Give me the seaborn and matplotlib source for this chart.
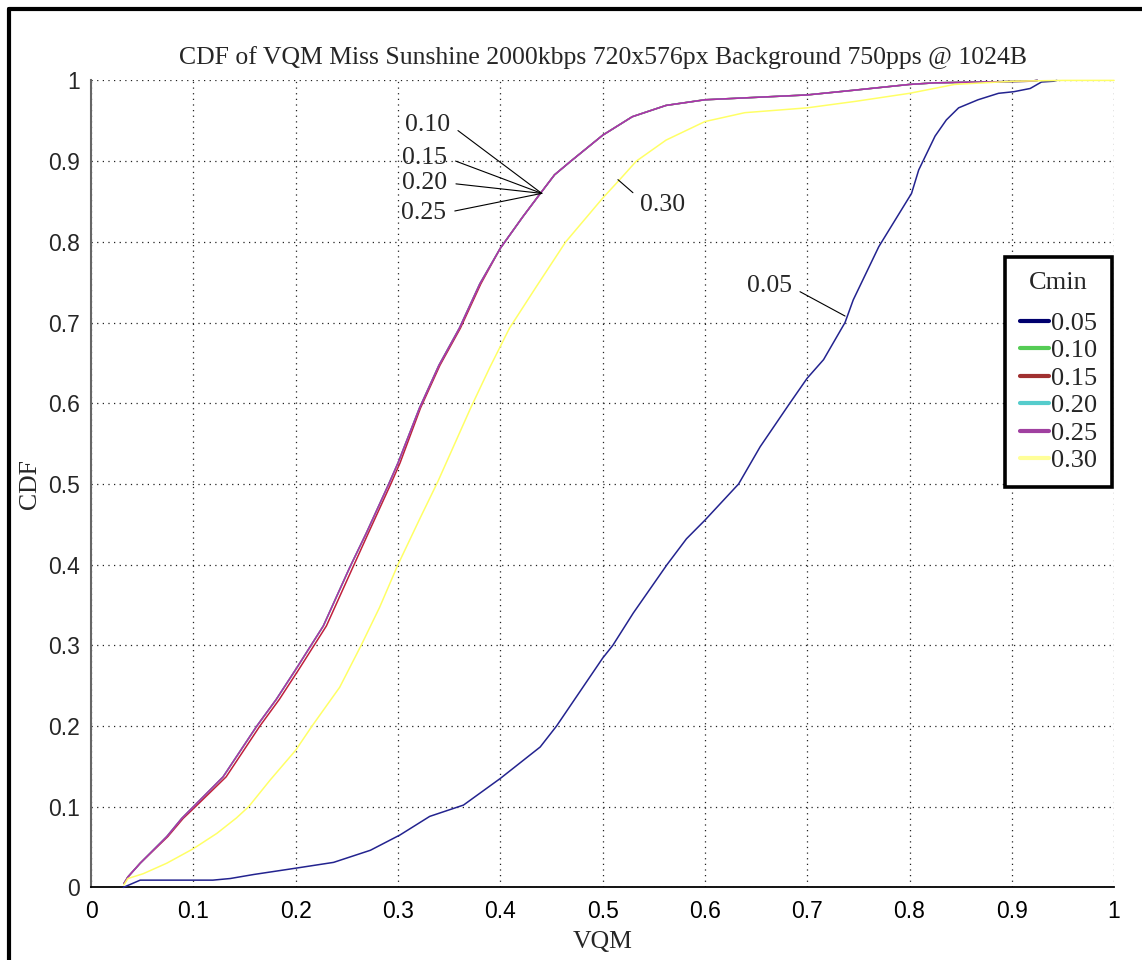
import numpy as np
import pandas as pd
import matplotlib
matplotlib.use('Agg')
import matplotlib.pyplot as plt
from matplotlib.lines import Line2D
import seaborn as sns

# ---- data ----
cmin_labels = ['0.05', '0.10', '0.15', '0.20', '0.25', '0.30']

vqm_005 = [0.0315, 0.048, 0.119, 0.136, 0.159, 0.201, 0.237, 0.273, 0.302, 0.331, 0.364,
           0.400, 0.439, 0.455, 0.500, 0.510, 0.530, 0.563, 0.582, 0.600, 0.633, 0.654,
           0.683, 0.700, 0.716, 0.737, 0.745, 0.770, 0.786, 0.802, 0.809, 0.817, 0.825,
           0.836, 0.848, 0.867, 0.887, 0.902, 0.918, 0.929, 0.941, 0.944]
cdf_005 = [0.0, 0.009, 0.009, 0.011, 0.016, 0.024, 0.031, 0.046, 0.065, 0.088, 0.102,
           0.135, 0.174, 0.200, 0.284, 0.300, 0.340, 0.400, 0.432, 0.455, 0.500, 0.546,
           0.600, 0.631, 0.654, 0.700, 0.728, 0.794, 0.827, 0.860, 0.889, 0.910, 0.931,
           0.951, 0.966, 0.976, 0.984, 0.986, 0.990, 0.998, 0.999, 1.0]

vqm_010 = [0.0322, 0.036, 0.048, 0.074, 0.0886, 0.100, 0.129, 0.162, 0.181, 0.200, 0.227,
           0.253, 0.269, 0.291, 0.300, 0.321, 0.340, 0.360, 0.380, 0.400, 0.422, 0.438,
           0.453, 0.469, 0.500, 0.529, 0.562, 0.600, 0.650, 0.700, 0.747, 0.800, 0.825,
           0.870, 0.918, 0.925]
cdf_010 = [0.005, 0.013, 0.030, 0.063, 0.0855, 0.100, 0.137, 0.200, 0.233, 0.270, 0.324,
           0.397, 0.439, 0.500, 0.526, 0.594, 0.647, 0.693, 0.748, 0.792, 0.831, 0.858,
           0.883, 0.900, 0.932, 0.955, 0.969, 0.976, 0.979, 0.982, 0.988, 0.995, 0.997,
           0.998, 0.999, 1.0]

vqm_015 = [0.0322, 0.036, 0.048, 0.075, 0.090, 0.102, 0.132, 0.165, 0.184, 0.203, 0.230,
           0.256, 0.271, 0.293, 0.302, 0.322, 0.341, 0.361, 0.381, 0.400, 0.422, 0.438,
           0.453, 0.469, 0.500, 0.529, 0.562, 0.600, 0.650, 0.700, 0.747, 0.800, 0.825,
           0.870, 0.918, 0.925]
cdf_015 = cdf_010

vqm_020 = vqm_010
cdf_020 = cdf_010
vqm_025 = vqm_010
cdf_025 = cdf_010

vqm_030 = [0.032, 0.036, 0.051, 0.074, 0.100, 0.123, 0.142, 0.154, 0.175, 0.200, 0.216,
           0.243, 0.264, 0.282, 0.300, 0.321, 0.339, 0.371, 0.390, 0.409, 0.435, 0.464,
           0.500, 0.516, 0.533, 0.562, 0.600, 0.639, 0.700, 0.747, 0.800, 0.844, 0.902,
           0.950, 1.000]
cdf_030 = [0.003, 0.011, 0.017, 0.030, 0.048, 0.067, 0.086, 0.100, 0.133, 0.170, 0.200,
           0.248, 0.300, 0.347, 0.400, 0.456, 0.503, 0.594, 0.645, 0.693, 0.744, 0.800,
           0.854, 0.876, 0.900, 0.926, 0.949, 0.960, 0.966, 0.974, 0.984, 0.995, 0.999,
           1.0, 1.0]

series_x = [vqm_005, vqm_010, vqm_015, vqm_020, vqm_025, vqm_030]
series_y = [cdf_005, cdf_010, cdf_015, cdf_020, cdf_025, cdf_030]
line_colors = ['#23238f', '#55cc55', '#c0203c', '#55cccc', '#b02ea8', '#ffff66']
legend_colors = ['#00006e', '#55cc55', '#a03030', '#55cccc', '#a040a0', '#ffff99']

xticks = [0, 0.1, 0.2, 0.3, 0.4, 0.5, 0.6, 0.7, 0.8, 0.9, 1]
xtick_labels = ['0', '0.1', '0.2', '0.3', '0.4', '0.5', '0.6', '0.7', '0.8', '0.9', '1']
yticks = xticks
ytick_labels = xtick_labels

# annotation: label, point on curve, text position, where the leader line leaves the text
annotations = [
    ('0.10', (0.4405, 0.860), (0.329, 0.945), (1, 0.5)),
    ('0.15', (0.4405, 0.860), (0.326, 0.904), (1, 0.5)),
    ('0.20', (0.4405, 0.860), (0.326, 0.873), (1, 0.5)),
    ('0.25', (0.4405, 0.860), (0.325, 0.836), (1, 0.5)),
    ('0.30', (0.515, 0.877), (0.559, 0.846), (0, 0.75)),
    ('0.05', (0.737, 0.708), (0.663, 0.745), (1, 0.45)),
]

# ---- style ----
sns.set_style("white")
serif = ['Liberation Serif', 'DejaVu Serif']
sans = ['Liberation Sans', 'DejaVu Sans']
plt.rcParams['font.family'] = serif

W, H = 1142, 960
fig = plt.figure(figsize=(W / 100, H / 100), dpi=100)
ax = fig.add_axes([91.1 / W, 1 - 887.4 / H, 1023 / W, 807 / H])

df = pd.DataFrame({
    'VQM': np.concatenate(series_x),
    'CDF': np.concatenate(series_y),
    'Cmin': np.repeat(cmin_labels, [len(s) for s in series_x]),
})
for lab, col in zip(cmin_labels, line_colors):
    sub = df[df['Cmin'] == lab]
    sns.lineplot(data=sub, x='VQM', y='CDF', ax=ax, color=col, lw=1.1,
                 estimator=None, sort=False, legend=False, clip_on=False, zorder=3)

ax.set_xlim(0, 1)
ax.set_ylim(0, 1)
ax.set_xticks(xticks)
ax.set_xticklabels(xtick_labels, fontfamily=sans, fontsize=16.5)
ax.set_yticks(yticks)
ax.set_yticklabels(ytick_labels, fontfamily=sans, fontsize=16.5)
ax.tick_params(axis='both', direction='in', length=6, width=1.2)
ax.tick_params(axis='x', pad=9, colors='black')
ax.tick_params(axis='y', pad=8, color='#666666')

ax.grid(True, linestyle=(0, (1, 3.5)), color='#222222', lw=0.9)
ax.set_axisbelow(True)
for s in ['top', 'right']:
    ax.spines[s].set_visible(False)
ax.spines['left'].set_color('#666666')
ax.spines['left'].set_linewidth(1.5)
ax.spines['bottom'].set_color('black')
ax.spines['bottom'].set_linewidth(1.3)

ax.set_title('CDF of VQM Miss Sunshine 2000kbps 720x576px Background 750pps @ 1024B',
             fontsize=18.5, pad=12)
ax.set_xlabel('VQM', fontsize=18.5, labelpad=6)
ax.set_ylabel('CDF', fontsize=18.5, labelpad=5)

for text, xy, xytext, rp in annotations:
    ax.annotate(text, xy=xy, xytext=xytext, fontsize=18.5, ha='center', va='center',
                arrowprops=dict(arrowstyle='-', color='black', lw=0.8,
                                shrinkA=4, shrinkB=0, relpos=rp), zorder=5)

handles = [Line2D([], [], color=c, lw=3) for c in legend_colors]
leg = ax.legend(handles, cmin_labels, title='Cmin', loc='upper left',
                bbox_to_anchor=(1005 / W, 1 - 257 / H), bbox_transform=fig.transFigure,
                frameon=True, fancybox=False, framealpha=1, edgecolor='black',
                fontsize=19, title_fontsize=19, handlelength=1.1,
                handletextpad=0.1, labelspacing=0.15, borderpad=0.55,
                borderaxespad=0)
leg.get_frame().set_linewidth(2.6)
leg._legend_box.sep = 13

# outer frame (visible on left and top)
fig.add_artist(Line2D([9 / W, 9 / W], [0, 1 - 9 / H], transform=fig.transFigure,
                      color='black', lw=3))
fig.add_artist(Line2D([9 / W, 1], [1 - 9 / H, 1 - 9 / H], transform=fig.transFigure,
                      color='black', lw=3))

fig.savefig('out.png', dpi=100)
